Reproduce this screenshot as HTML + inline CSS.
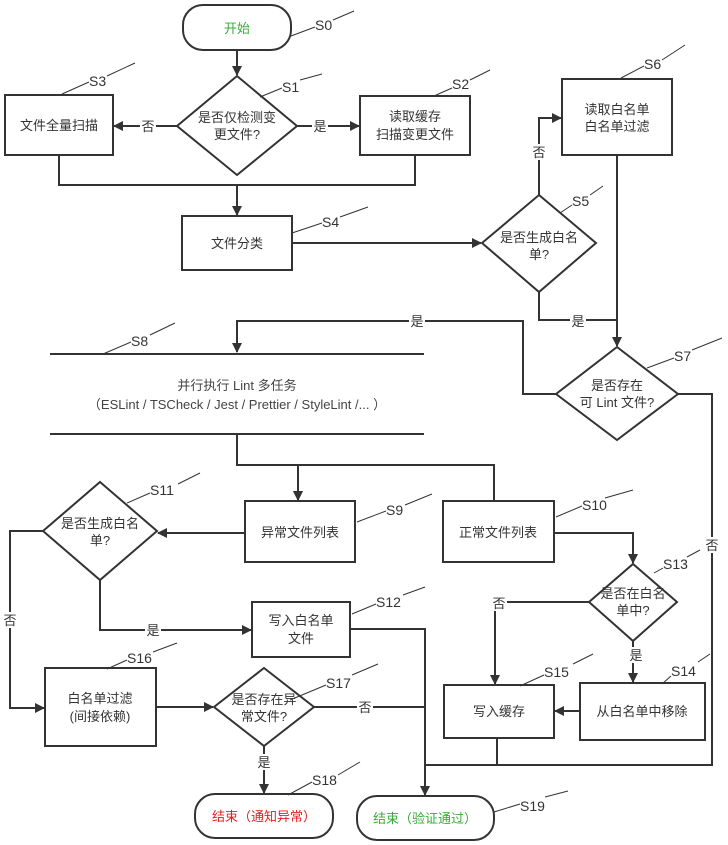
<!DOCTYPE html>
<html><head><meta charset="utf-8"><style>
html,body{margin:0;padding:0;background:#fff;}
svg{display:block;}
text{font-family:"Liberation Sans","Noto Sans CJK SC",sans-serif;font-size:13px;fill:#333;}
.s{font-size:14px;}
</style></head><body>
<svg width="728" height="845" viewBox="0 0 728 845" xmlns="http://www.w3.org/2000/svg">
<defs><marker id="a" markerWidth="10" markerHeight="10" refX="9" refY="5" orient="auto" markerUnits="userSpaceOnUse"><path d="M0,0 L10,5 L0,10 Z" fill="#333"/></marker></defs>
<g fill="#fff" stroke="#333" stroke-width="2">
<rect x="183" y="5" width="108" height="45" rx="20"/>
<polygon points="237,76 297,126 237,175 177,126"/>
<rect x="5" y="95" width="108" height="60"/>
<rect x="360" y="96" width="110" height="59"/>
<rect x="182" y="216" width="110" height="54"/>
<polygon points="539,195 596,243 539,292 482,243"/>
<rect x="562" y="79" width="110" height="76"/>
<polygon points="617,347 678,394 617,440 556,394"/>
<rect x="245" y="501" width="110" height="61"/>
<rect x="443" y="501" width="111" height="61"/>
<polygon points="100,482 157,531 100,580 43,531"/>
<rect x="252" y="602" width="98" height="55"/>
<rect x="45" y="668" width="111" height="78"/>
<polygon points="264,668 314,707 264,746 214,707"/>
<rect x="195" y="794" width="138" height="44" rx="20"/>
<rect x="357" y="796" width="137" height="44" rx="20"/>
<polygon points="633,564 677,602 633,641 589,602"/>
<rect x="580" y="683" width="125" height="57"/>
<rect x="444" y="685" width="110" height="53"/>
</g>
<g fill="none" stroke="#333" stroke-width="2">
<path d="M237,50 V75" marker-end="url(#a)"/>
<path d="M177,126 H114" marker-end="url(#a)"/>
<path d="M297,126 H359" marker-end="url(#a)"/>
<path d="M59,155 V185 H415 V155"/>
<path d="M237,185 V215" marker-end="url(#a)"/>
<path d="M292,243 H481" marker-end="url(#a)"/>
<path d="M539,195 V118 H561" marker-end="url(#a)"/>
<path d="M617,155 V346" marker-end="url(#a)"/>
<path d="M539,292 V320 H617"/>
<path d="M556,394 H523 V321 H237 V352" marker-end="url(#a)"/>
<path d="M50,354 H424 M50,434 H424"/>
<path d="M237,434 V465 H494 V500 M298,465 V500" marker-end="url(#a)"/>
<path d="M298,465 V500" marker-end="url(#a)"/>
<path d="M678,394 H712 V765 H425"/>
<path d="M245,533 H158" marker-end="url(#a)"/>
<path d="M43,531 H10 V708 H44" marker-end="url(#a)"/>
<path d="M100,580 V630 H251" marker-end="url(#a)"/>
<path d="M350,629 H425 V795" marker-end="url(#a)"/>
<path d="M156,707 H213" marker-end="url(#a)"/>
<path d="M314,707 H425"/>
<path d="M264,746 V793" marker-end="url(#a)"/>
<path d="M554,533 H633 V563" marker-end="url(#a)"/>
<path d="M589,602 H495 V684" marker-end="url(#a)"/>
<path d="M633,641 V682" marker-end="url(#a)"/>
<path d="M580,711 H555" marker-end="url(#a)"/>
<path d="M497,738 V765"/>
</g>
<g fill="#fff">
<rect x="140" y="118" width="16" height="16"/><rect x="312" y="118" width="16" height="16"/>
<rect x="531" y="144" width="16" height="16"/><rect x="570" y="313" width="16" height="16"/>
<rect x="409" y="313" width="16" height="16"/><rect x="704" y="537" width="16" height="16"/>
<rect x="2" y="612" width="16" height="16"/><rect x="145" y="622" width="16" height="16"/>
<rect x="357" y="699" width="16" height="16"/><rect x="256" y="754" width="16" height="16"/>
<rect x="491" y="595" width="16" height="16"/><rect x="628" y="647" width="16" height="16"/>
</g>
<g text-anchor="middle">
<text x="237" y="33" style="fill:#3aaa3a">开始</text>
<text x="237" y="122">是否仅检测变</text><text x="237" y="139">更文件?</text>
<text x="59" y="130">文件全量扫描</text>
<text x="415" y="121">读取缓存</text><text x="415" y="139">扫描变更文件</text>
<text x="237" y="248">文件分类</text>
<text x="539" y="242">是否生成白名</text><text x="539" y="259">单?</text>
<text x="617" y="114">读取白名单</text><text x="617" y="131">白名单过滤</text>
<text x="617" y="390">是否存在</text><text x="617" y="407">可 Lint 文件?</text>
<text x="237" y="390" style="fill:#444">并行执行 Lint 多任务</text>
<text x="237" y="409" style="fill:#444">（ESLint / TSCheck / Jest / Prettier / StyleLint /... ）</text>
<text x="300" y="537">异常文件列表</text>
<text x="498" y="537">正常文件列表</text>
<text x="100" y="528">是否生成白名</text><text x="100" y="545">单?</text>
<text x="301" y="625">写入白名单</text><text x="301" y="643">文件</text>
<text x="100" y="703">白名单过滤</text><text x="100" y="721">(间接依赖)</text>
<text x="264" y="704">是否存在异</text><text x="264" y="721">常文件?</text>
<text x="264" y="821" style="fill:#e02020">结束（通知异常）</text>
<text x="425" y="823" style="fill:#3aaa3a">结束（验证通过）</text>
<text x="633" y="598">是否在白名</text><text x="633" y="615">单中?</text>
<text x="642" y="716">从白名单中移除</text>
<text x="499" y="716">写入缓存</text>
<text x="148" y="131">否</text><text x="320" y="131">是</text>
<text x="539" y="157">否</text><text x="578" y="326">是</text>
<text x="417" y="326">是</text><text x="712" y="550">否</text>
<text x="10" y="625">否</text><text x="153" y="635">是</text>
<text x="365" y="712">否</text><text x="264" y="767">是</text>
<text x="499" y="608">否</text><text x="636" y="660">是</text>
</g>
<g class="s">
<text class="s" x="315" y="30">S0</text><text class="s" x="282" y="92">S1</text>
<text class="s" x="452" y="89">S2</text><text class="s" x="89" y="86">S3</text>
<text class="s" x="322" y="227">S4</text><text class="s" x="572" y="206">S5</text>
<text class="s" x="644" y="69">S6</text><text class="s" x="674" y="361">S7</text>
<text class="s" x="131" y="346">S8</text><text class="s" x="386" y="515">S9</text>
<text class="s" x="582" y="510">S10</text><text class="s" x="150" y="495">S11</text>
<text class="s" x="376" y="607">S12</text><text class="s" x="663" y="569">S13</text>
<text class="s" x="671" y="676">S14</text><text class="s" x="544" y="677">S15</text>
<text class="s" x="127" y="663">S16</text><text class="s" x="326" y="688">S17</text>
<text class="s" x="312" y="785">S18</text><text class="s" x="520" y="811">S19</text>
</g>
<g stroke="#333" stroke-width="1">
<path d="M291,36 L315,27 M333,20 L354,11"/>
<path d="M260,97 L282,88 M300,80 L322,74"/>
<path d="M434,96 L452,88 M470,80 L490,70"/>
<path d="M62,94 L89,82 M107,76 L135,63"/>
<path d="M292,233 L322,223 M340,217 L368,207"/>
<path d="M560,213 L572,205 M590,195 L603,186"/>
<path d="M621,78 L644,66 M662,60 L685,45"/>
<path d="M647,368 L674,358 M692,350 L722,338"/>
<path d="M103,354 L131,342 M150,335 L175,323"/>
<path d="M357,522 L386,511 M405,505 L432,494"/>
<path d="M556,517 L582,506 M605,498 L633,490"/>
<path d="M127,503 L150,493 M178,484 L200,473"/>
<path d="M352,614 L376,604 M403,595 L425,587"/>
<path d="M654,573 L663,568 M687,557 L700,550"/>
<path d="M662,684 L671,676 M698,662 L710,654"/>
<path d="M520,686 L544,675 M573,664 L593,654"/>
<path d="M107,669 L127,660 M153,652 L177,643"/>
<path d="M290,700 L326,685 M352,675 L378,664"/>
<path d="M288,795 L312,782 M338,775 L360,762"/>
<path d="M494,812 L520,804 M545,797 L568,791"/>
</g>
</svg>
</body></html>
